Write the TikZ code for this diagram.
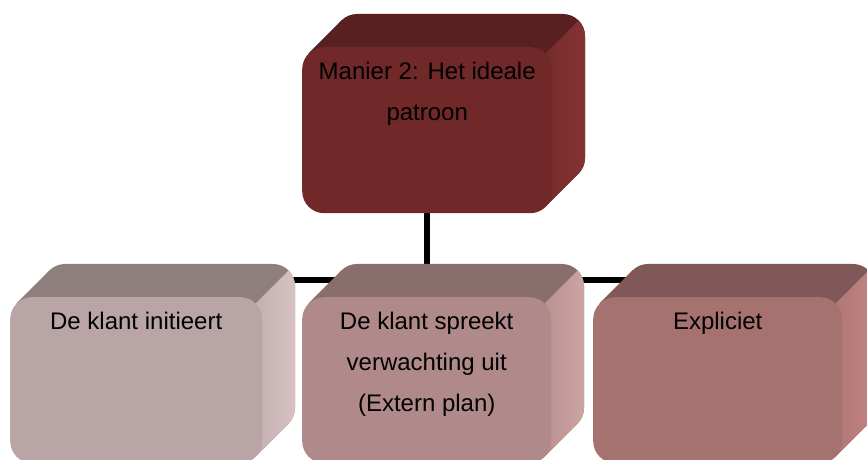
\documentclass[tikz,border=0pt]{standalone}
\usepackage{fontspec}
\setmainfont{Liberation Sans}
\usetikzlibrary{backgrounds}
\definecolor{topF}{RGB}{112,40,40}
\definecolor{topT}{RGB}{88,32,32}
\definecolor{topSL}{RGB}{118,44,44}
\definecolor{topSR}{RGB}{132,50,50}
\definecolor{lF}{RGB}{185,165,165}
\definecolor{lT}{RGB}{143,126,126}
\definecolor{lSL}{RGB}{196,176,176}
\definecolor{lSR}{RGB}{214,194,194}
\definecolor{mF}{RGB}{176,138,138}
\definecolor{mT}{RGB}{138,110,110}
\definecolor{mSL}{RGB}{186,146,146}
\definecolor{mSR}{RGB}{204,164,164}
\definecolor{rF}{RGB}{165,114,111}
\definecolor{rT}{RGB}{128,88,88}
\definecolor{rSL}{RGB}{176,120,118}
\definecolor{rSR}{RGB}{194,132,130}
\tikzset{
  txt/.style={font=\fontsize{24}{41}\selectfont, align=center, inner sep=0pt, anchor=north, text=black},
  conn/.style={line width=5.5pt, black}
}
% #1 x1, #2 ytop(px), #3 x2, #4 ybot(px), #5 front, #6 top, #7 sideL, #8 sideR, #9 name
\newcommand\tdbox[9]{%
  \pgfmathsetmacro\bxA{#1}\pgfmathsetmacro\bxB{#3}%
  \pgfmathsetmacro\byT{460-#2}\pgfmathsetmacro\byB{460-#4}%
  \pgfmathsetmacro\bW{#3-#1}\pgfmathsetmacro\bH{#4-#2}%
  \fill[#6,rounded corners=22pt] (\bxA+33,\byB+33) rectangle (\bxB+33,\byT+33);
  \fill[#6] (\bxA+6.44,\byT-6.44) -- (\bxA+39.44,\byT+26.56) -- (\bxB+26.56,\byB+39.44) -- (\bxB-6.44,\byB+6.44) -- cycle;
  \shade[left color=#7, right color=#8] (\bxB-6.44,\byT-6.44) -- (\bxB+26.56,\byT+26.56)
     arc[start angle=45,end angle=0,radius=22] -- (\bxB+33,\byB+55)
     arc[start angle=0,end angle=-45,radius=22] -- (\bxB-6.44,\byB+6.44) -- cycle;
  \node[fill=#5, rounded corners=22pt, inner sep=0pt, minimum width=\bW pt, minimum height=\bH pt, anchor=north west] (#9) at (\bxA,\byT) {};
}
\begin{document}
\begin{tikzpicture}[x=1pt,y=1pt]
\useasboundingbox (0,0) rectangle (867,460);
\tdbox{302}{47}{552}{213}{topF}{topT}{topSL}{topSR}{top}
\tdbox{10}{297}{262}{463}{lF}{lT}{lSL}{lSR}{left}
\tdbox{302}{297}{551}{463}{mF}{mT}{mSL}{mSR}{mid}
\tdbox{593}{297}{842}{463}{rF}{rT}{rSL}{rSR}{right}
\node[txt] (topt) at (top.north |- 0,398.5) {Manier 2: Het ideale\\patroon};
\node[txt] (leftt) at (left.north |- 0,148.5) {De klant initieert};
\node[txt] (midt) at (mid.north |- 0,148.5) {De klant spreekt\\verwachting uit\\(Extern plan)};
\node[txt] (rightt) at (right.north |- 0,148.5) {Expliciet};
\coordinate (hub) at (top.south |- 0,180);
\begin{scope}[on background layer]
\draw[conn] (top.south) -- (hub);
\draw[conn] (hub) -| (left.north);
\draw[conn] (hub) -| (right.north);
\draw[conn] (hub) -- (mid.north);
\end{scope}
\end{tikzpicture}
\end{document}
